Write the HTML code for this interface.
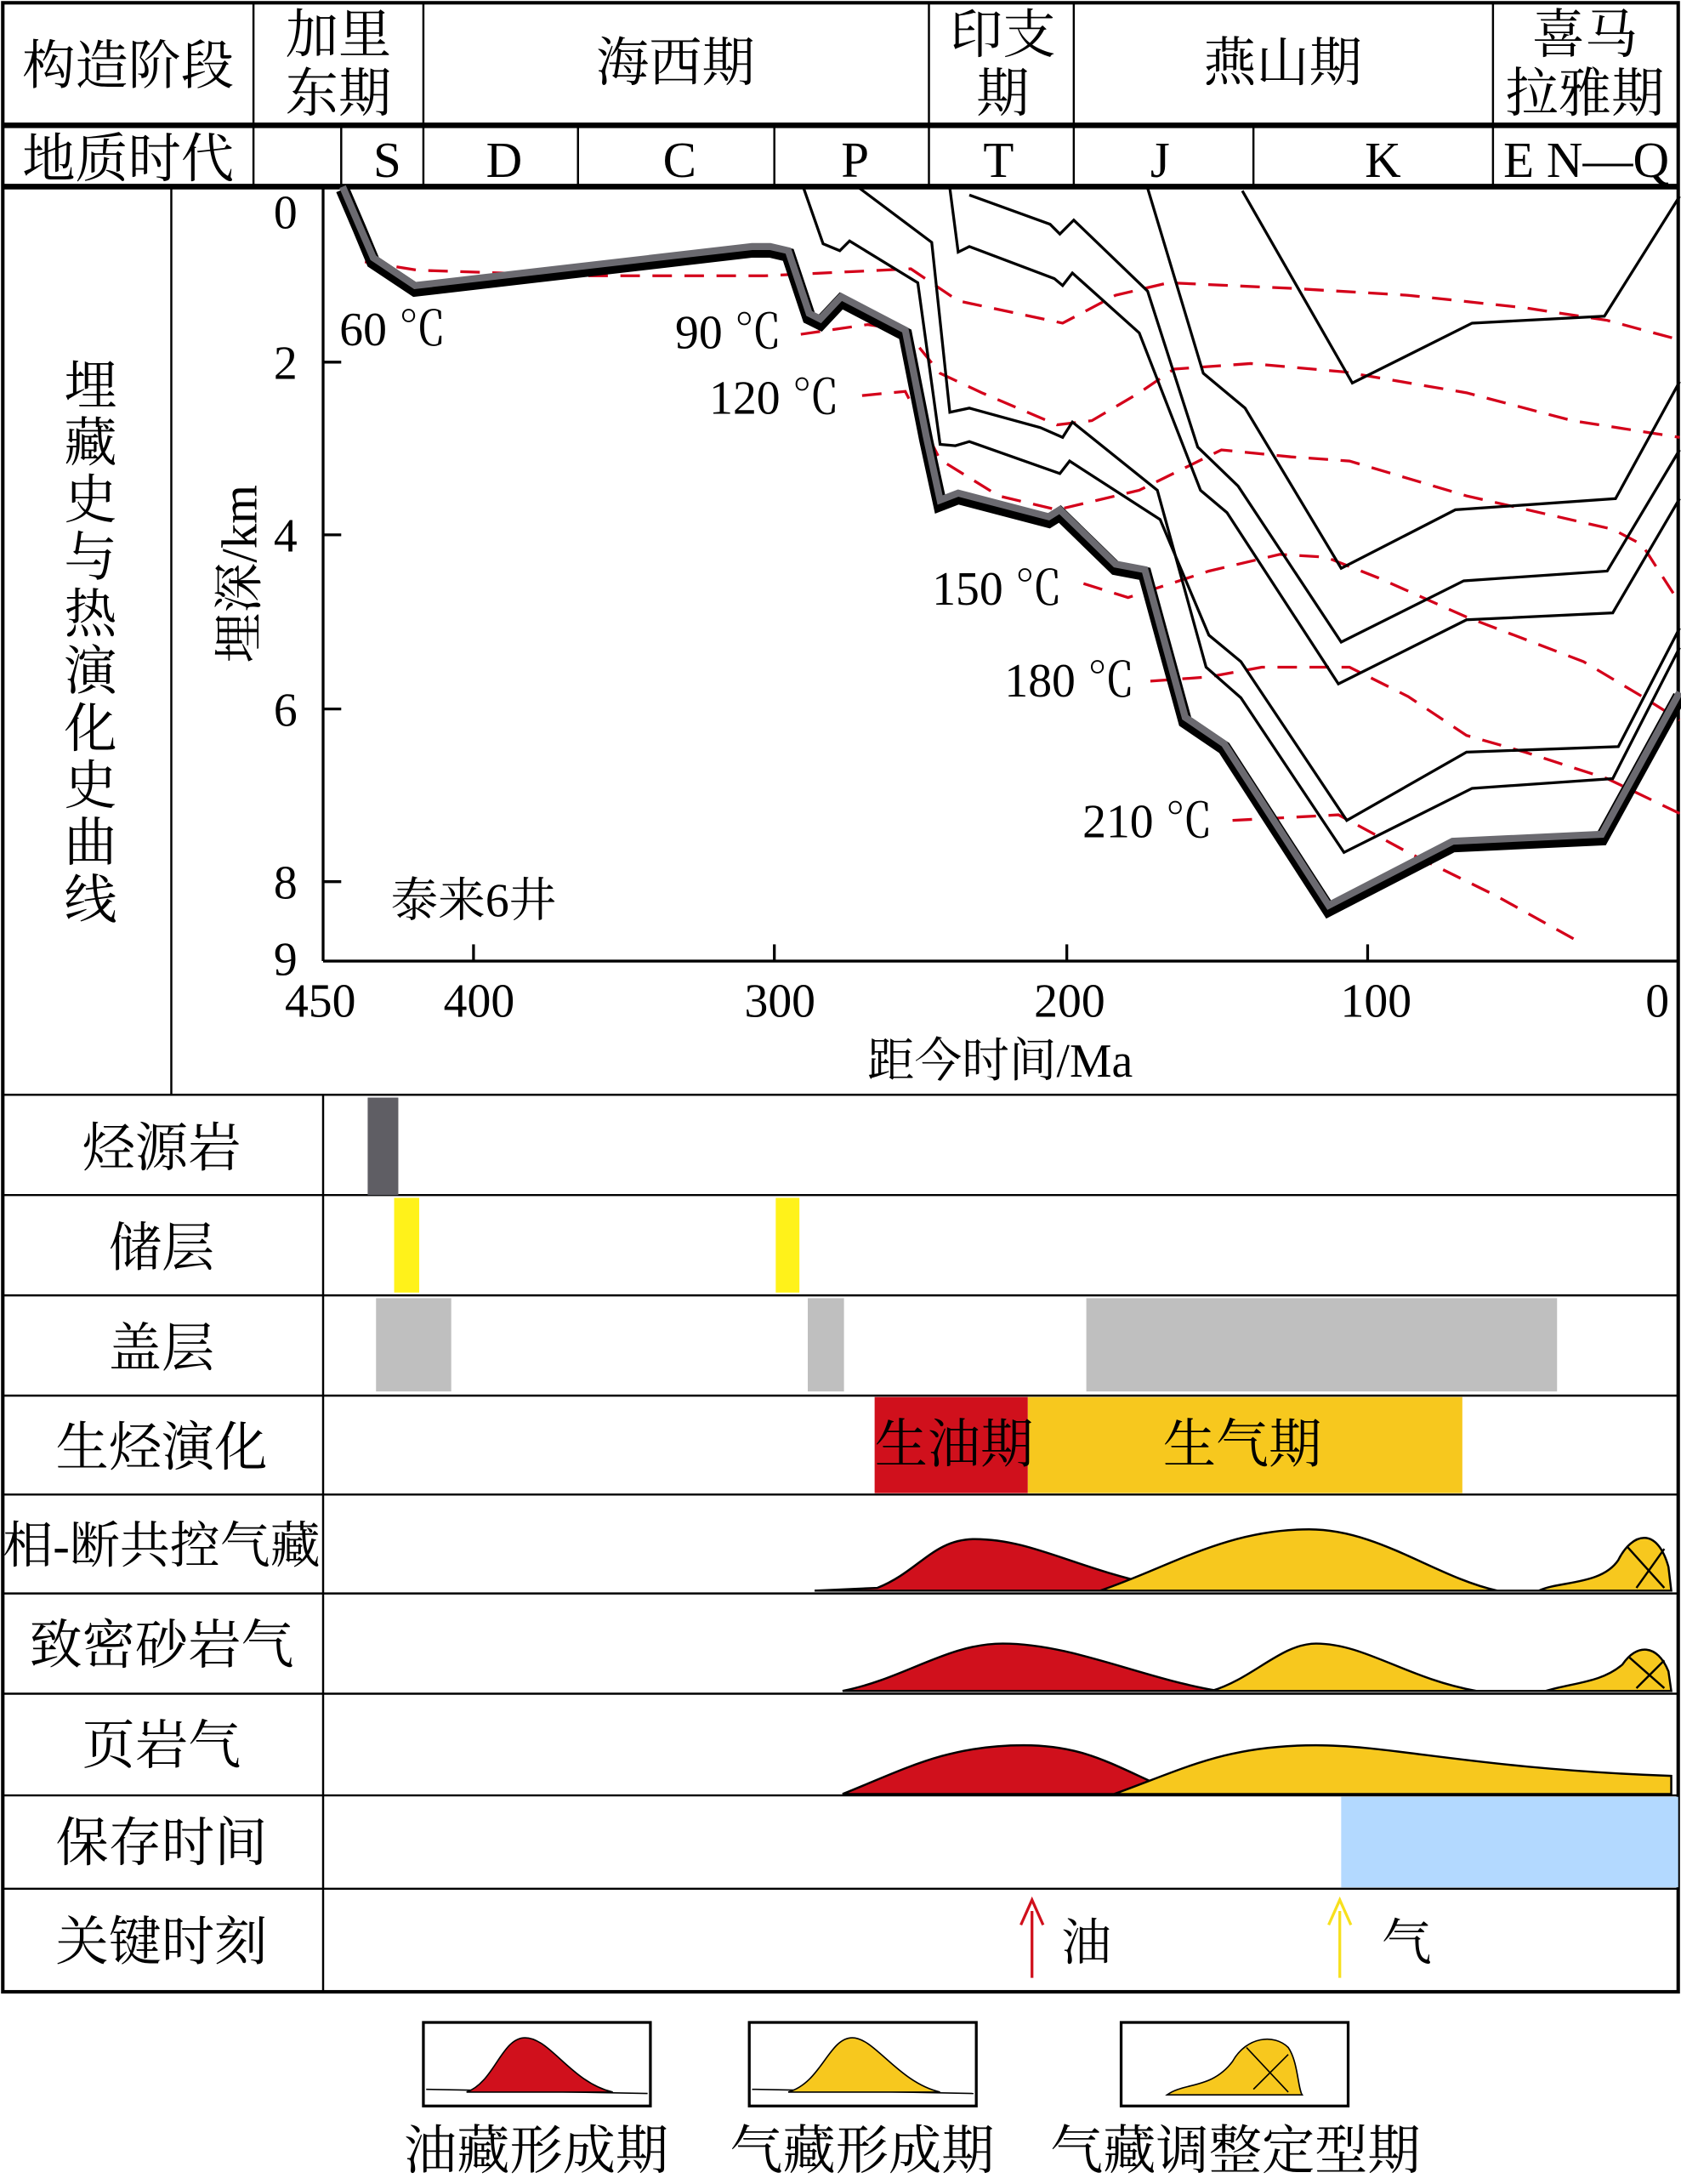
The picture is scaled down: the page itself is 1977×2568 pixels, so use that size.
<!DOCTYPE html>
<html><head><meta charset="utf-8"><style>
html,body{margin:0;padding:0;background:#fff;}
svg{display:block;}
.c{font-family:"Liberation Serif","Noto Serif CJK SC",serif;}
</style></head><body>
<svg width="1977" height="2568" viewBox="0 0 1207 1568" preserveAspectRatio="none" xmlns="http://www.w3.org/2000/svg">
<g class="c" fill="#000" font-family="Liberation Serif, Noto Serif CJK SC, serif">
<!-- frame -->
<rect x="2" y="2" width="1203" height="1428" fill="none" stroke="#000" stroke-width="2.5"/>
<line x1="2" y1="90" x2="1205" y2="90" stroke="#000" stroke-width="4"/>
<line x1="2" y1="134" x2="1205" y2="134" stroke="#000" stroke-width="4"/>
<g stroke="#000" stroke-width="1.5">
<line x1="182" y1="2" x2="182" y2="134"/><line x1="304" y1="2" x2="304" y2="134"/>
<line x1="667" y1="2" x2="667" y2="134"/><line x1="771" y1="2" x2="771" y2="134"/>
<line x1="1072" y1="2" x2="1072" y2="134"/>
<line x1="245" y1="90" x2="245" y2="134"/><line x1="415" y1="90" x2="415" y2="134"/>
<line x1="556" y1="90" x2="556" y2="134"/><line x1="900" y1="90" x2="900" y2="134"/>
<line x1="123" y1="134" x2="123" y2="786"/>
<line x1="2" y1="786" x2="1205" y2="786"/>
<line x1="2" y1="858" x2="1205" y2="858"/><line x1="2" y1="930" x2="1205" y2="930"/>
<line x1="2" y1="1002" x2="1205" y2="1002"/><line x1="2" y1="1073" x2="1205" y2="1073"/>
<line x1="2" y1="1144" x2="1205" y2="1144"/><line x1="2" y1="1216" x2="1205" y2="1216"/>
<line x1="2" y1="1289" x2="1205" y2="1289"/><line x1="2" y1="1356" x2="1205" y2="1356"/>
<line x1="232" y1="786" x2="232" y2="1430"/>
</g>
<!-- header text -->
<g font-size="38" text-anchor="middle">
<text x="92" y="60">构造阶段</text>
<text x="243" y="38">加里</text><text x="243" y="80">东期</text>
<text x="485" y="58">海西期</text>
<text x="720" y="38">印支</text><text x="720" y="80">期</text>
<text x="921" y="58">燕山期</text>
<text x="1138" y="38">喜马</text><text x="1138" y="80">拉雅期</text>
<text x="92" y="127">地质时代</text>
</g>
<g font-size="36" text-anchor="middle">
<text x="278" y="127">S</text><text x="362" y="127">D</text><text x="488" y="127">C</text>
<text x="614" y="127">P</text><text x="717" y="127">T</text><text x="833" y="127">J</text>
<text x="993" y="127">K</text><text x="1139" y="127">E N—Q</text>
</g>
<!-- left labels -->
<g font-size="38" text-anchor="middle">
<text x="65" y="290">埋</text><text x="65" y="331">藏</text><text x="65" y="372">史</text>
<text x="65" y="413">与</text><text x="65" y="454">热</text><text x="65" y="495">演</text>
<text x="65" y="536">化</text><text x="65" y="577">史</text><text x="65" y="618">曲</text>
<text x="65" y="659">线</text>
</g>
<text x="172" y="412" font-size="36" text-anchor="middle" transform="rotate(-90 172 412)" dy="12">埋深/km</text>
<!-- axes -->
<g stroke="#000" stroke-width="2">
<line x1="232" y1="134" x2="232" y2="690"/><line x1="232" y1="690" x2="1204" y2="690"/>
<line x1="232" y1="260" x2="245" y2="260"/><line x1="232" y1="384" x2="245" y2="384"/>
<line x1="232" y1="509" x2="245" y2="509"/><line x1="232" y1="633" x2="245" y2="633"/>
<line x1="340" y1="690" x2="340" y2="678"/><line x1="556" y1="690" x2="556" y2="678"/>
<line x1="766" y1="690" x2="766" y2="678"/><line x1="982" y1="690" x2="982" y2="678"/>
</g>
<g font-size="34" text-anchor="middle">
<text x="205" y="164">0</text><text x="205" y="272">2</text><text x="205" y="396">4</text>
<text x="205" y="521">6</text><text x="205" y="645">8</text><text x="205" y="700">9</text>
<text x="230" y="730">450</text><text x="344" y="730">400</text><text x="560" y="730">300</text>
<text x="768" y="730">200</text><text x="988" y="730">100</text><text x="1190" y="730">0</text>
<text x="718" y="773">距今时间/Ma</text>
<text x="340" y="658">泰来6井</text>
<text x="282" y="248">60 ℃</text><text x="523" y="250">90 ℃</text>
<text x="556" y="297">120 ℃</text><text x="716" y="434">150 ℃</text>
<text x="768" y="500">180 ℃</text><text x="824" y="601">210 ℃</text>
</g>
<!-- isotherms -->
<g fill="none" stroke="#d4001a" stroke-width="2" stroke-dasharray="14,9">
<polyline points="262,188 300,194 420,198 549,198 612,195 654,193 688,216 763,232 801,212 839,203 927,207 1011,212 1095,221 1154,230 1206,244"/>
<polyline points="575,240 623,233 650,237 675,268 705,282 759,305 784,302 818,282 843,265 898,261 965,267 1053,282 1129,302 1206,314"/>
<polyline points="619,284 650,281 675,330 717,356 759,366 818,352 877,323 927,328 969,331 1053,356 1158,380 1179,391 1206,433"/>
<polyline points="778,419 810,429 868,410 919,398 952,400 990,415 1053,443 1137,475 1179,500 1206,517"/>
<polyline points="826,489 868,486 906,479 969,479 1011,500 1053,528 1095,540 1154,559 1206,584"/>
<polyline points="885,589 961,585 1011,612 1074,643 1137,678"/>
</g>
<!-- burial curves -->
<g fill="none" stroke="#000" stroke-width="2">
<polyline points="617,135 669,174 682,296 696,293 747,307 763,314 770,303 831,352 866,479 891,501 965,612 1057,566 1158,559 1206,465"/>
<polyline points="577,135 591,175 603,180 610,173 659,203 675,319 686,320 696,317 761,340 768,331 833,373 868,456 891,475 967,589 1053,540 1162,536 1206,451"/>
<polyline points="682,135 688,181 696,177 757,200 763,205 770,196 818,239 862,352 881,368 961,491 1053,445 1158,440 1206,358"/>
<polyline points="696,140 754,161 761,168 771,158 824,209 860,321 889,349 963,461 1051,417 1154,410 1206,323"/>
<polyline points="824,135 864,268 894,293 963,408 1045,366 1160,358 1206,274"/>
<polyline points="892,137 971,275 1057,232 1152,227 1206,141"/>
</g>
<polyline fill="none" stroke="#000" stroke-width="10" stroke-linejoin="miter" points="246,136 258,164 268,188 298,208 540,180 553,180 566,183 581,228 589,232 604,216 650,240 665,316 675,362 688,357 753,374 761,369 801,408 822,412 851,518 879,537 954,653 1043,607 1150,602 1206,500"/>
<polyline fill="none" stroke="#6b6a70" stroke-width="5" points="246,134 258,162 268,185 298,205 540,177 553,177 566,180 581,225 589,229 604,213 650,237 665,313 675,359 688,354 753,371 761,366 801,405 822,409 851,515 879,534 954,650 1043,604 1150,599 1206,497"/>
<rect x="0" y="136" width="0" height="0"/>
<!-- table rows -->
<g font-size="38" text-anchor="middle">
<text x="116" y="837">烃源岩</text><text x="116" y="909">储层</text>
<text x="116" y="981">盖层</text><text x="116" y="1052">生烃演化</text>
<text x="116" y="1122" font-size="36">相-断共控气藏</text><text x="116" y="1194">致密砂岩气</text>
<text x="116" y="1266">页岩气</text><text x="116" y="1336">保存时间</text>
<text x="116" y="1407">关键时刻</text>
</g>
<rect x="264" y="788" width="22" height="70" fill="#5f5e64"/>
<rect x="283" y="860" width="18" height="68" fill="#fff21a"/>
<rect x="557" y="860" width="17" height="68" fill="#fff21a"/>
<g fill="#bfbfbf"><rect x="270" y="932" width="54" height="67"/><rect x="580" y="932" width="26" height="67"/><rect x="780" y="932" width="338" height="67"/></g>
<rect x="628" y="1003" width="110" height="69" fill="#d0101c"/>
<rect x="738" y="1003" width="312" height="69" fill="#f7c81e"/>
<text x="685" y="1050" font-size="38" text-anchor="middle">生油期</text>
<text x="892" y="1050" font-size="38" text-anchor="middle">生气期</text>
<!-- peaks -->
<g stroke="#000" stroke-width="1.5">
<line x1="585" y1="1142" x2="1200" y2="1142"/>
<path d="M585,1142 L630,1140 C660,1128 670,1105 700,1105 C740,1105 770,1125 830,1138 L835,1142 Z" fill="#d0101c"/>
<path d="M790,1142 C840,1125 880,1098 940,1098 C990,1098 1030,1132 1075,1142 Z" fill="#f7c81e"/>
<path d="M1105,1142 C1120,1135 1150,1138 1162,1120 C1172,1100 1190,1096 1198,1125 L1200,1142 Z" fill="#f7c81e"/>
<path d="M1168,1110 L1195,1140 M1175,1140 L1195,1112" fill="none"/>
<line x1="605" y1="1214" x2="1200" y2="1214"/>
<path d="M605,1214 C650,1205 680,1180 720,1180 C770,1180 820,1205 875,1214 Z" fill="#d0101c"/>
<path d="M870,1214 C900,1205 920,1180 945,1180 C980,1180 1010,1205 1060,1214 Z" fill="#f7c81e"/>
<path d="M1110,1214 C1130,1208 1150,1208 1165,1195 C1175,1180 1190,1180 1198,1200 L1200,1214 Z" fill="#f7c81e"/>
<path d="M1170,1190 L1195,1212 M1175,1212 L1195,1192" fill="none"/>
<line x1="605" y1="1288" x2="1200" y2="1288"/>
<path d="M605,1288 C650,1270 680,1253 735,1253 C780,1253 800,1268 840,1285 L840,1288 Z" fill="#d0101c"/>
<path d="M800,1288 C850,1270 880,1253 945,1253 C1000,1253 1060,1270 1200,1275 L1200,1288 Z" fill="#f7c81e"/>
</g>
<rect x="963" y="1290" width="242" height="65" fill="#b3d9ff"/>
<!-- arrows -->
<line x1="741" y1="1420" x2="741" y2="1372" stroke="#d0101c" stroke-width="2"/>
<path d="M733,1382 L741,1364 L749,1382" fill="none" stroke="#d0101c" stroke-width="2"/>
<text x="780" y="1407" font-size="36" text-anchor="middle">油</text>
<line x1="962" y1="1420" x2="962" y2="1372" stroke="#f7e01e" stroke-width="2"/>
<path d="M954,1382 L962,1364 L970,1382" fill="none" stroke="#f7e01e" stroke-width="2"/>
<text x="1010" y="1407" font-size="36" text-anchor="middle">气</text>
<!-- legend -->
<g stroke="#000" stroke-width="2">
<rect x="304" y="1452" width="163" height="60" fill="none"/>
<rect x="538" y="1452" width="163" height="60" fill="none"/>
<rect x="805" y="1452" width="163" height="60" fill="none"/>
<line x1="306" y1="1500" x2="465" y2="1503" stroke-width="1"/>
<path d="M335,1502 C355,1495 360,1463 377,1463 C395,1463 410,1495 440,1502 Z" fill="#d0101c" stroke-width="1"/>
<line x1="540" y1="1500" x2="699" y2="1503" stroke-width="1"/>
<path d="M566,1502 C590,1495 595,1463 612,1463 C628,1463 645,1495 675,1502 Z" fill="#f7c81e" stroke-width="1"/>
<path d="M838,1504 C850,1495 870,1500 885,1480 C895,1462 915,1460 925,1470 C932,1480 932,1500 935,1504 Z" fill="#f7c81e" stroke-width="1"/>
<path d="M895,1470 L925,1502 M900,1500 L925,1475" fill="none" stroke-width="1"/>
</g>
<g font-size="38" text-anchor="middle">
<text x="385" y="1557">油藏形成期</text><text x="619" y="1557">气藏形成期</text><text x="887" y="1557">气藏调整定型期</text>
</g>
</g>
</svg>
</body></html>
